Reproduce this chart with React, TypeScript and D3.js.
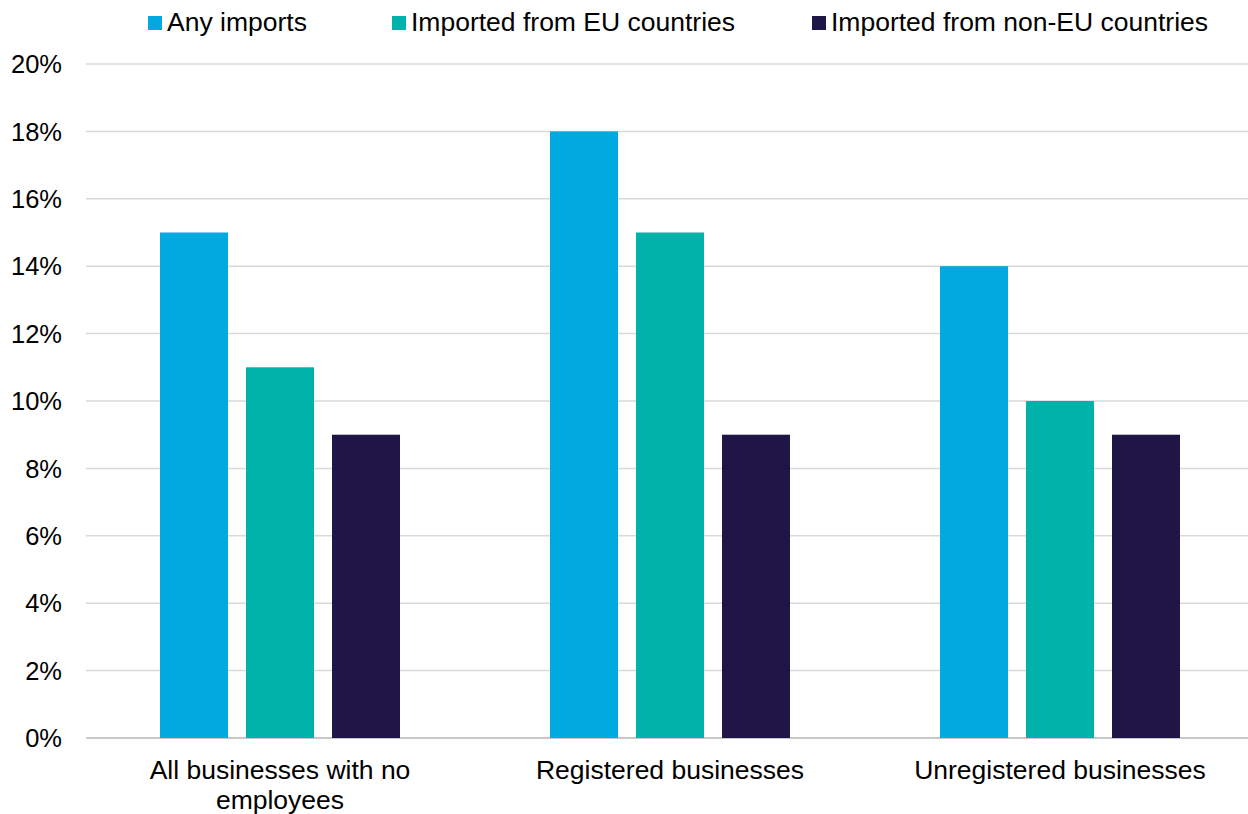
import React from "react";
import * as d3 from "d3";

const categories: string[][] = [
  ["All businesses with no", "employees"],
  ["Registered businesses"],
  ["Unregistered businesses"],
];
const seriesNames = ["Any imports", "Imported from EU countries", "Imported from non-EU countries"];
const seriesColors = ["#00a9e0", "#00b2a9", "#1f1646"];
const anyImports = [0.15, 0.18, 0.14];
const euImports = [0.11, 0.15, 0.10];
const nonEuImports = [0.09, 0.09, 0.09];
const yTicks = [0, 0.02, 0.04, 0.06, 0.08, 0.1, 0.12, 0.14, 0.16, 0.18, 0.2];

const W = 1248;
const H = 814;
const left = 85;
const right = 1255;
const top = 64;
const bottom = 738;
const FONT = "'Liberation Sans', Arial, sans-serif";

export default function App() {
  const series = [anyImports, euImports, nonEuImports];
  const catKeys = categories.map((c) => c.join(" "));
  const p = 150 / 390;
  const x0 = d3.scaleBand<string>().domain(catKeys).range([left, right]).paddingInner(p).paddingOuter(p / 2);
  const x1 = d3
    .scaleBand<string>()
    .domain(seriesNames)
    .range([0, x0.bandwidth()])
    .paddingInner(18 / 86)
    .paddingOuter(0);
  const y = d3.scaleLinear().domain([0, 0.2]).range([bottom, top]);
  const fmt = d3.format(".0%");
  const legendX = [148, 392, 812];

  return (
    <svg
      width={W}
      height={H}
      style={{ position: "absolute", left: 0, top: 0, background: "#fff" }}
      fontFamily={FONT}
    >
      {yTicks.map((t) => (
        <g key={t}>
          <line
            x1={left + 1}
            x2={W}
            y1={y(t)}
            y2={y(t)}
            stroke={t === 0 ? "#c8c8c8" : "#d9d9d9"}
            strokeWidth={t === 0 ? 2 : 1.5}
          />
          <text x={62} y={y(t)} dy="0.36em" textAnchor="end" fontSize={25.5} fill="#000">
            {fmt(t)}
          </text>
        </g>
      ))}
      {catKeys.map((k, ci) => (
        <g key={k} transform={`translate(${x0(k)},0)`}>
          {series.map((vals, si) => (
            <rect
              key={si}
              x={x1(seriesNames[si])}
              y={y(vals[ci])}
              width={x1.bandwidth()}
              height={bottom - y(vals[ci])}
              fill={seriesColors[si]}
            />
          ))}
          <text textAnchor="middle" fontSize={26.5} fill="#000">
            {categories[ci].map((line, li) => (
              <tspan key={li} x={x0.bandwidth() / 2} y={779 + li * 30}>
                {line}
              </tspan>
            ))}
          </text>
        </g>
      ))}
      {seriesNames.map((s, i) => (
        <g key={s}>
          <rect x={legendX[i]} y={16} width={14} height={14} fill={seriesColors[i]} />
          <text x={legendX[i] + 19} y={31} fontSize={26.5} fill="#000">
            {s}
          </text>
        </g>
      ))}
    </svg>
  );
}
